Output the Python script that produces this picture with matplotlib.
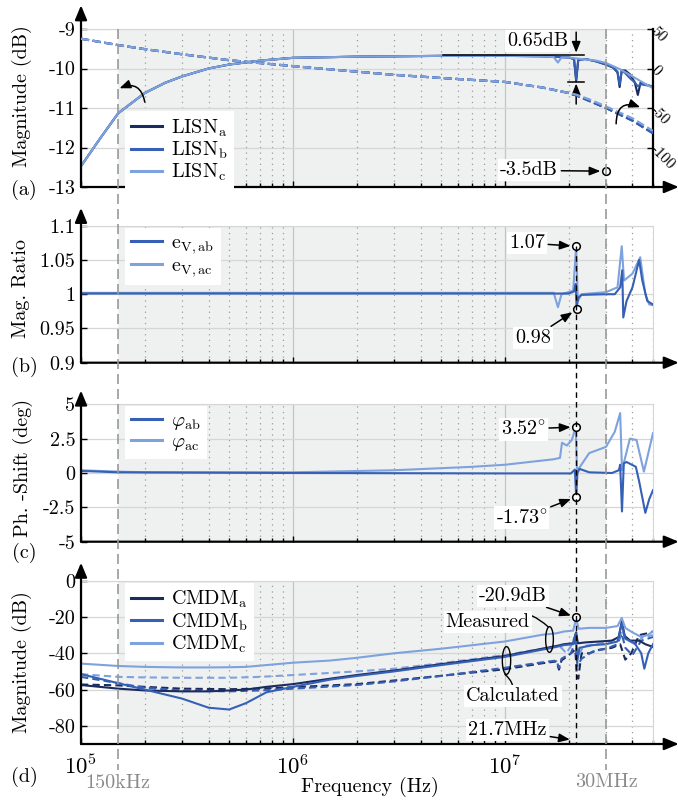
import numpy as np
import matplotlib
matplotlib.use('Agg')
import matplotlib.pyplot as plt
from matplotlib.lines import Line2D
from matplotlib.path import Path
from matplotlib import transforms

plt.rcParams['font.family'] = ['cmr10', 'DejaVu Serif']
plt.rcParams['mathtext.fontset'] = 'cm'
plt.rcParams['axes.unicode_minus'] = False
plt.rcParams['axes.formatter.use_mathtext'] = True
plt.rcParams['font.size'] = 14.5

NAVY = '#1c2b5e'
MID = '#3560b5'
LIGHT = '#7ea2dd'
SHADE = '#eff1f1'
GREY = '#999999'

# ---- (a) LISN magnitude (left, dB) and phase (right, deg)
lisn_f = [1e5, 1.25e5, 1.5e5, 2e5, 2.5e5, 3e5, 4e5, 5e5, 7e5, 1e6, 2e6, 5e6, 1e7, 1.5e7]
lisn_db = [-12.47, -11.72, -11.13, -10.62, -10.36, -10.2, -10.0, -9.9, -9.8, -9.73, -9.7, -9.68, -9.68, -9.69]
lisn_a_hf_f = [2e7, 2.12e7, 2.17e7, 2.22e7, 2.4e7, 2.7e7, 3e7, 3.25e7, 3.4e7, 3.48e7, 3.56e7, 3.7e7,
               3.9e7, 4.1e7, 4.24e7, 4.37e7, 4.6e7, 5e7]
lisn_a_hf_db = [-9.72, -9.76, -10.32, -9.78, -9.76, -9.82, -9.9, -9.98, -10.1, -10.47, -10.05, -10.05,
                -10.15, -10.35, -10.67, -10.35, -10.4, -10.47]
lisn_b_hf_f = lisn_a_hf_f
lisn_b_hf_db = [-9.72, -9.76, -10.28, -9.78, -9.76, -9.82, -9.9, -9.98, -10.08, -10.4, -10.05, -10.12,
                -10.25, -10.35, -10.45, -10.4, -10.42, -10.45]
lisn_c_hf_f = [1.7e7, 1.78e7, 1.85e7, 2e7, 2.3e7, 2.7e7, 3e7, 3.5e7, 4e7, 4.5e7, 5e7]
lisn_c_hf_db = [-9.71, -9.85, -9.72, -9.72, -9.76, -9.8, -9.86, -10.02, -10.2, -10.36, -10.5]

phase_f = [1e5, 1.5e5, 2e5, 3e5, 5e5, 1e6, 2e6, 3e6, 5e6, 1e7, 1.5e7, 2e7]
phase_deg = [37.7, 29.6, 24.5, 18, 10.5, 3, -4, -8, -12, -17, -24, -31]
phase_hf_f = [2.17e7, 2.5e7, 3e7, 4e7, 5e7]
phase_ab_hf = [-34, -41, -50, -66, -82]
phase_c_hf = [-33, -39, -48, -63, -79]

# ---- (b) magnitude ratio
ev_ab_f = [1e5, 1e6, 1e7, 2.0e7, 2.12e7, 2.16e7, 2.18e7, 2.22e7, 2.3e7, 3e7, 3.3e7, 3.5e7, 3.58e7,
           3.62e7, 3.75e7, 4.0e7, 4.3e7, 4.45e7, 4.7e7, 5e7]
ev_ab = [1.001, 1.001, 1.001, 1.001, 1.004, 1.015, 0.98, 0.995, 0.999, 1.0, 1.0, 1.01, 1.035,
         0.966, 0.99, 1.01, 1.05, 1.02, 0.99, 0.985]
ev_ac_f = [1e5, 1e6, 1e7, 1.7e7, 1.78e7, 1.85e7, 2.1e7, 2.17e7, 2.21e7, 2.3e7, 3e7, 3.4e7, 3.56e7,
           3.65e7, 4.0e7, 4.35e7, 4.6e7, 4.8e7, 5e7]
ev_ac = [1.002, 1.002, 1.002, 1.002, 0.981, 1.0, 1.005, 1.07, 0.99, 1.0, 1.003, 1.01, 1.07,
         1.02, 1.03, 1.054, 1.0, 0.985, 0.984]

# ---- (c) phase shift
phi_ab_f = [1e5, 1.5e5, 1e6, 1e7, 2.05e7, 2.14e7, 2.17e7, 2.2e7, 2.25e7, 2.5e7, 3.2e7, 3.45e7, 3.5e7,
            3.57e7, 3.64e7, 3.75e7, 4.15e7, 4.3e7, 4.6e7, 4.8e7, 5e7]
phi_ab = [0.15, 0.05, 0.0, -0.03, -0.03, 0.25, -1.73, 0.0, 0.3, 0.05, 0.0, 0.2, 0.6,
          -2.8, 0.7, 0.8, 0.45, -0.6, -2.9, -1.9, -1.25]
phi_ac_f = [1e5, 1.5e5, 2e5, 1e6, 3e6, 7e6, 1e7, 1.7e7, 1.82e7, 1.86e7, 1.96e7, 2.07e7, 2.16e7,
            2.19e7, 2.25e7, 2.5e7, 3e7, 3.3e7, 3.5e7, 3.57e7, 3.89e7, 4.18e7, 4.53e7, 5e7]
phi_ac = [0.2, 0.1, 0.05, 0.05, 0.2, 0.45, 0.6, 1.0, 1.1, 2.2, 2.0, 2.4, 3.35,
          0.2, 0.4, 1.45, 1.9, 3.0, 4.36, 0.2, 2.5, 2.4, 0.1, 2.9]

# ---- (d) CM-DM conversion, measured (solid) and calculated (dashed)
cm_f = [1e5, 1.5e5, 2e5, 3e5, 4e5, 5e5, 6e5, 7.5e5, 1e6, 1.5e6, 2e6, 3e6, 5e6, 1e7, 1.5e7, 1.75e7]
cmdm_a_meas = [-57.5, -59.5, -60.5, -61, -61, -60.5, -60, -58.5, -57, -54, -52, -49.5, -46, -41.5, -37.5, -36]
cmdm_b_meas = [-51.5, -56.5, -60, -65, -70, -71, -67.5, -61.5, -58.5, -54.5, -52.5, -50, -46.5, -42, -38, -36.5]
cmdm_c_meas = [-45.7, -47, -47.5, -47.8, -47.8, -47.7, -47.5, -46.5, -45.2, -44, -42.5, -40, -37.5, -33.5, -29.8, -29]
cmdm_a_meas_hf_f = [1.9e7, 2.1e7, 2.17e7, 2.21e7, 2.4e7, 2.8e7, 3.2e7, 3.45e7, 3.56e7, 3.68e7, 3.9e7, 4.3e7, 4.6e7, 5e7]
cmdm_a_meas_hf = [-35, -34.5, -28.5, -34.5, -34, -33.5, -33, -31, -22.5, -30.5, -33, -33, -35, -36.5]
cmdm_b_meas_hf_f = [1.9e7, 2.1e7, 2.16e7, 2.19e7, 2.25e7, 2.6e7, 3e7, 3.4e7, 3.56e7, 3.7e7, 4.1e7, 4.4e7, 4.55e7, 4.75e7, 5e7]
cmdm_b_meas_hf = [-35.5, -35, -29, -45, -37, -35.5, -35, -33.5, -23.5, -32, -34.5, -40, -48.5, -40, -35]
cmdm_c_meas_hf_f = [1.9e7, 2.1e7, 2.17e7, 2.23e7, 2.5e7, 3e7, 3.4e7, 3.56e7, 3.7e7, 4e7, 4.4e7, 4.7e7, 5e7]
cmdm_c_meas_hf = [-28, -27.5, -20.9, -26.5, -26, -26, -25, -20.5, -26, -28.5, -31, -30, -28]

cm_calc_f = [1e5, 1.5e5, 2e5, 3e5, 5e5, 7e5, 1e6, 2e6, 3e6, 5e6, 1e7, 1.5e7, 1.75e7]
cmdm_a_calc = [-57.2, -57.7, -58.5, -59.5, -59.8, -59.5, -58.7, -57, -55, -52.4, -48.8, -45.5, -44.5]
cmdm_b_calc = [-53, -56.5, -59, -60.5, -61, -60.5, -59.5, -57.5, -55.5, -52.5, -48, -45, -44]
cmdm_c_calc = [-51.5, -53, -53.3, -53.5, -53.5, -53, -52, -50, -48.5, -45.5, -41, -37.5, -36]
cmdm_a_calc_hf_f = [1.8e7, 1.85e7, 2.0e7, 2.15e7, 2.18e7, 2.22e7, 2.3e7, 2.5e7, 2.8e7, 3.2e7, 3.5e7, 3.7e7, 3.95e7, 4.3e7, 4.7e7, 5e7]
cmdm_a_calc_hf = [-49, -44, -41, -38, -50, -54, -40, -40, -38, -37, -35, -43.5, -40, -30, -29, -28]
cmdm_b_calc_hf_f = [1.8e7, 1.85e7, 2.05e7, 2.16e7, 2.2e7, 2.3e7, 2.6e7, 3e7, 3.4e7, 3.56e7, 3.7e7, 4e7, 4.4e7, 4.7e7, 5e7]
cmdm_b_calc_hf = [-48, -43, -40, -33, -47, -43, -39, -37.5, -35, -29, -37, -41, -33, -32, -31]
cmdm_c_calc_hf_f = [1.85e7, 1.95e7, 2.05e7, 2.17e7, 2.21e7, 2.35e7, 2.7e7, 3e7, 3.45e7, 3.56e7, 3.7e7, 4.1e7, 4.5e7, 5e7]
cmdm_c_calc_hf = [-37, -40, -36, -29, -42, -36, -35, -34, -32, -27, -32, -35, -31, -30]

W, H = 678, 802
fig = plt.figure(figsize=(W / 100, H / 100), dpi=100)


def px_axes(left, top, right, bottom):
    return fig.add_axes([left / W, 1 - bottom / H, (right - left) / W, (bottom - top) / H])


def style_axis(ax, ylim, yticks, yticklabels, arrow_top=1.12):
    ax.set_xscale('log')
    ax.set_xlim(1e5, 5e7)
    ax.set_ylim(*ylim)
    ax.set_yticks(yticks)
    ax.set_yticklabels(yticklabels)
    ax.axvspan(1.5e5, 3e7, color=SHADE, zorder=0, lw=0)
    ax.set_axisbelow(True)
    ax.grid(True, which='major', axis='y', color='#d6d6d6', lw=0.9)
    ax.grid(True, which='major', axis='x', color='#c4c4c4', lw=0.9)
    ax.grid(True, which='minor', axis='x', color='#9a9a9a', lw=0.9, ls=(0, (1, 3.5)))
    for s in ['top', 'right']:
        ax.spines[s].set_color('#d6d6d6')
    for s in ['left', 'bottom']:
        ax.spines[s].set_visible(False)
    ax.tick_params(which='both', direction='in', length=4, width=1, top=False, right=False, pad=4)
    ax.tick_params(axis='x', which='minor', length=3)
    ax.tick_params(axis='x', which='both', labelbottom=False)
    arrow = dict(arrowstyle='-|>,head_length=0.6,head_width=0.25', color='k', lw=1.6,
                 shrinkA=0, shrinkB=0)
    ax.annotate('', xy=(1.045, 0), xytext=(0, 0), xycoords='axes fraction',
                textcoords='axes fraction', arrowprops=arrow, annotation_clip=False, zorder=8)
    ax.annotate('', xy=(0, arrow_top), xytext=(0, 0), xycoords='axes fraction',
                textcoords='axes fraction', arrowprops=arrow, annotation_clip=False, zorder=8)


def legend(ax, handles, labels, y):
    leg = ax.legend(handles, labels, loc='upper left', bbox_to_anchor=(0.077, y),
                    borderaxespad=0, frameon=True, fancybox=False, framealpha=1,
                    edgecolor='none', facecolor='white', handlelength=1.55,
                    handletextpad=0.45, labelspacing=0.05, borderpad=0.3, fontsize=14.5)
    for ln in leg.get_lines():
        ln.set_linewidth(2.2)
    leg.set_zorder(9)


def callout(ax, text, xy, xytext):
    ax.annotate(text, xy=xy, xytext=xytext, ha='center', va='center', zorder=9,
                bbox=dict(boxstyle='square,pad=0.1', fc='white', ec='none'),
                arrowprops=dict(arrowstyle='-|>,head_length=0.45,head_width=0.18', color='k',
                                lw=1.1, shrinkA=1, shrinkB=4))


def marker(ax, x, y):
    ax.plot([x], [y], 'o', ms=5.5, mfc='white', mec='k', mew=1.1, zorder=10, clip_on=False)


arrow_small = dict(arrowstyle='-|>,head_length=0.45,head_width=0.18', color='k', lw=1.1,
                   shrinkA=0, shrinkB=0)

# ---------------- (a)
ax_a = px_axes(81, 29, 653, 187)
style_axis(ax_a, (-13, -9), [-13, -12, -11, -10, -9], ['-13', '-12', '-11', '-10', '-9'], 1.15)
ax_a.spines['right'].set_visible(False)
h_a = []
for col, hf, hd in [(NAVY, lisn_a_hf_f, lisn_a_hf_db), (MID, lisn_b_hf_f, lisn_b_hf_db),
                    (LIGHT, lisn_c_hf_f, lisn_c_hf_db)]:
    h, = ax_a.plot(lisn_f + hf, lisn_db + hd, color=col, lw=1.5, zorder=3)
    h_a.append(h)
legend(ax_a, h_a, [r'LISN$_\mathrm{a}$', r'LISN$_\mathrm{b}$', r'LISN$_\mathrm{c}$'], 0.48)
ax_a.set_ylabel('Magnitude (dB)')
ax_a.yaxis.set_label_coords(-0.086, 0.576)

ax_a2 = ax_a.twinx()
ax_a2.set_xscale('log')
ax_a2.set_xlim(1e5, 5e7)
ax_a2.set_ylim(-150, 50)
ax_a2.set_yticks([-100, -50, 0, 50])
ax_a2.set_yticklabels(['-100', '-50', '0', '50'])
for s in ['top', 'left', 'bottom']:
    ax_a2.spines[s].set_visible(False)
ax_a2.spines['right'].set_color('k')
ax_a2.spines['right'].set_linewidth(1.6)
ax_a2.tick_params(axis='y', direction='in', length=4, width=1, pad=0, labelsize=11)
for lbl in ax_a2.get_yticklabels():
    lbl.set_rotation(-45)
    lbl.set_rotation_mode('anchor')
    lbl.set_ha('left')
    lbl.set_va('center')
for col, hd in [(NAVY, phase_ab_hf), (MID, phase_ab_hf), (LIGHT, phase_c_hf)]:
    ax_a2.plot(phase_f + phase_hf_f, phase_deg + hd, color=col, lw=1.6, ls='--', zorder=3)

# annotations (a)
ax_a.annotate('', xy=(1.52e5, -10.5), xytext=(2.0e5, -10.85), arrowprops=dict(
    arrowstyle='-|>,head_length=0.45,head_width=0.18', color='k', lw=1.1,
    connectionstyle='arc3,rad=0.6', shrinkA=0, shrinkB=0), zorder=9)
ax_a2.annotate('', xy=(4.35e7, -49), xytext=(3.35e7, -70), arrowprops=dict(
    arrowstyle='-|>,head_length=0.45,head_width=0.18', color='k', lw=1.1,
    connectionstyle='arc3,rad=-0.7', shrinkA=0, shrinkB=0), zorder=9)
ax_a.text(1.43e7, -9.31, '0.65dB', ha='center', va='center', zorder=9,
          bbox=dict(boxstyle='square,pad=0.1', fc='white', ec='none'))
ax_a.annotate('', xy=(2.17e7, -9.6), xytext=(2.17e7, -9.08), arrowprops=arrow_small, zorder=9)
ax_a.plot([5.1e6, 2.36e7], [-9.66, -9.66], color='k', lw=1.1, zorder=4)
ax_a.plot([1.99e7, 2.36e7], [-10.33, -10.33], color='k', lw=1.1, zorder=4)
ax_a.annotate('', xy=(2.17e7, -10.38), xytext=(2.17e7, -10.9), arrowprops=arrow_small, zorder=9)
callout(ax_a, '-3.5dB', (3e7, -12.6), (1.3e7, -12.58))
marker(ax_a, 3e7, -12.6)

# ---------------- (b)
ax_b = px_axes(81, 225.7, 653, 362.7)
style_axis(ax_b, (0.9, 1.1), [0.9, 0.95, 1.0, 1.05, 1.1], ['0.9', '0.95', '1', '1.05', '1.1'], 1.13)
hb1, = ax_b.plot(ev_ab_f, ev_ab, color=MID, lw=1.5, zorder=3)
hb2, = ax_b.plot(ev_ac_f, ev_ac, color=LIGHT, lw=1.5, zorder=2.9)
legend(ax_b, [hb1, hb2], [r'e$_\mathrm{V,ab}$', r'e$_\mathrm{V,ac}$'], 0.983)
ax_b.set_ylabel('Mag. Ratio')
ax_b.yaxis.set_label_coords(-0.089, 0.545)
callout(ax_b, '1.07', (2.17e7, 1.07), (1.27e7, 1.0747))
marker(ax_b, 2.17e7, 1.07)
callout(ax_b, '0.98', (2.19e7, 0.978), (1.36e7, 0.936))
marker(ax_b, 2.19e7, 0.978)

# ---------------- (c)
ax_c = px_axes(81, 404.3, 653, 541.7)
style_axis(ax_c, (-5, 5), [-5, -2.5, 0, 2.5, 5], ['-5', '-2.5', '0', '2.5', '5'], 1.1)
hc1, = ax_c.plot(phi_ab_f, phi_ab, color=MID, lw=1.5, zorder=3)
hc2, = ax_c.plot(phi_ac_f, phi_ac, color=LIGHT, lw=1.5, zorder=2.9)
legend(ax_c, [hc1, hc2], [r'$\varphi_\mathrm{ab}$', r'$\varphi_\mathrm{ac}$'], 0.988)
ax_c.set_ylabel('Ph. -Shift (deg)')
ax_c.yaxis.set_label_coords(-0.084, 0.535)
callout(ax_c, r'$3.52^{\circ}$', (2.17e7, 3.35), (1.22e7, 3.2))
marker(ax_c, 2.17e7, 3.35)
callout(ax_c, r'-$1.73^{\circ}$', (2.17e7, -1.75), (1.2e7, -3.27))
marker(ax_c, 2.17e7, -1.75)

# ---------------- (d)
ax_d = px_axes(81, 580.7, 653, 744)
style_axis(ax_d, (-90, 0), [-80, -60, -40, -20, 0], ['-80', '-60', '-40', '-20', '0'], 1.11)
ax_d.tick_params(axis='x', which='major', labelbottom=True, labelsize=16.5, pad=7)
h_d = []
for col, lo, hf, hd in [(NAVY, cmdm_a_meas, cmdm_a_meas_hf_f, cmdm_a_meas_hf),
                        (MID, cmdm_b_meas, cmdm_b_meas_hf_f, cmdm_b_meas_hf),
                        (LIGHT, cmdm_c_meas, cmdm_c_meas_hf_f, cmdm_c_meas_hf)]:
    h, = ax_d.plot(cm_f + hf, lo + hd, color=col, lw=1.5, zorder=3)
    h_d.append(h)
for col, lo, hf, hd in [(NAVY, cmdm_a_calc, cmdm_a_calc_hf_f, cmdm_a_calc_hf),
                        (MID, cmdm_b_calc, cmdm_b_calc_hf_f, cmdm_b_calc_hf),
                        (LIGHT, cmdm_c_calc, cmdm_c_calc_hf_f, cmdm_c_calc_hf)]:
    ax_d.plot(cm_calc_f + hf, lo + hd, color=col, lw=1.5, dashes=(3.5, 2), zorder=2.8)
legend(ax_d, h_d, [r'CMDM$_\mathrm{a}$', r'CMDM$_\mathrm{b}$', r'CMDM$_\mathrm{c}$'], 0.986)
ax_d.set_ylabel('Magnitude (dB)')
ax_d.yaxis.set_label_coords(-0.086, 0.5)
ax_d.set_xlabel('Frequency (Hz)')
ax_d.xaxis.set_label_coords(0.505, -0.2)
callout(ax_d, '-20.9dB', (2.17e7, -20.2), (1.09e7, -8.4))
marker(ax_d, 2.17e7, -20.2)
callout(ax_d, '21.7MHz', (2.15e7, -88), (1.03e7, -82.4))

theta = np.linspace(0, 2 * np.pi, 80)
ellipse = Path(np.column_stack([0.3 * np.cos(theta), np.sin(theta)]))
ax_d.plot([1.61e7], [-32.2], marker=ellipse, ms=18.5, mfc='none', mec='k', mew=1.0, zorder=6)
ax_d.plot([1.01e7], [-43.9], marker=ellipse, ms=20, mfc='none', mec='k', mew=1.0, zorder=6)
ax_d.annotate('Measured', xy=(1.6e7, -25.4), xytext=(8.3e6, -23), ha='center', va='center', zorder=9,
              bbox=dict(boxstyle='square,pad=0.1', fc='white', ec='none'),
              arrowprops=dict(arrowstyle='-', color='k', lw=1.0, shrinkA=0, shrinkB=0,
                              connectionstyle='arc3,rad=-0.4'))
ax_d.annotate('Calculated', xy=(1.0e7, -51.6), xytext=(1.09e7, -63.5), ha='center', va='center', zorder=9,
              bbox=dict(boxstyle='square,pad=0.1', fc='white', ec='none'),
              arrowprops=dict(arrowstyle='-', color='k', lw=1.0, shrinkA=0, shrinkB=0,
                              connectionstyle='arc3,rad=0.3'))

# ---------------- figure-level marker lines
blend = transforms.blended_transform_factory(ax_d.transData, fig.transFigure)
for f0 in [1.5e5, 3e7]:
    fig.add_artist(Line2D([f0, f0], [1 - 29 / H, 1 - 770 / H], transform=blend, color=GREY,
                          lw=1.2, dashes=(6, 3), zorder=1))
fig.add_artist(Line2D([2.17e7, 2.17e7], [1 - 246 / H, 1 - 744 / H], transform=blend, color='k',
                      lw=1.0, dashes=(4, 3), zorder=5))
fig.text(118 / W, 1 - 783 / H, '150kHz', color='#8a8a8a', ha='center', va='center')
fig.text(606 / W, 1 - 782 / H, '30MHz', color='#8a8a8a', ha='center', va='center')

for lbl, y in [('(a)', 190), ('(b)', 367), ('(c)', 553), ('(d)', 777)]:
    fig.text(24 / W, 1 - y / H, lbl, ha='center', va='center')

fig.savefig('out.png', dpi=100)
